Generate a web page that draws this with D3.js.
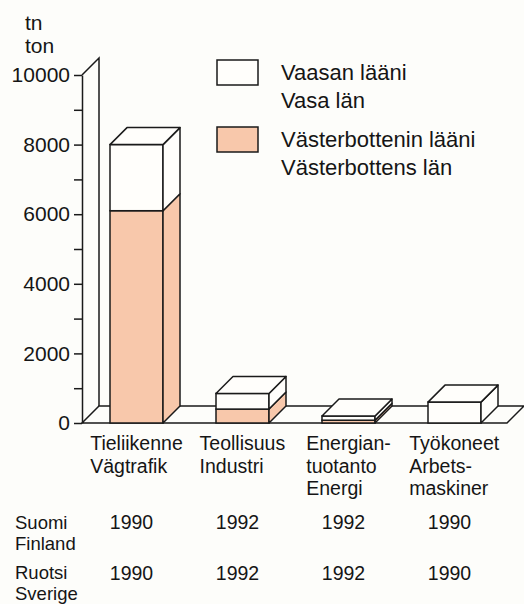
<!DOCTYPE html>
<html>
<head>
<meta charset="utf-8">
<script src="https://cdn.jsdelivr.net/npm/d3@7"></script>
<style>
  body { margin: 0; background: #fdfdfa; }
  svg text { font-family: "Liberation Sans", Arial, sans-serif; fill: #151515; }
</style>
</head>
<body>
<div class="chart"></div>
<script>
// data (tonnes)
var categories = [
  ["Tieliikenne", "Vägtrafik"],
  ["Teollisuus", "Industri"],
  ["Energian-", "tuotanto", "Energi"],
  ["Työkoneet", "Arbets-", "maskiner"]
];
var vaasa = [1900, 450, 120, 600];
var vasterbotten = [6100, 400, 80, 0];
var yearsFinland = [1990, 1992, 1992, 1990];
var yearsSweden = [1990, 1992, 1992, 1990];
var yTicks = [0, 1000, 2000, 3000, 4000, 5000, 6000, 7000, 8000, 9000, 10000];
var legendLabels = [["Vaasan lääni", "Vasa län"], ["Västerbottenin lääni", "Västerbottens län"]];

var width = 524, height = 604;
var depth = 17;
var peach = "#f8c8ab", white = "#fffefb", ink = "#1a1a1a";

var svg = d3.select(".chart").append("svg")
  .attr("width", width)
  .attr("height", height);

var y = d3.scaleLinear().domain([0, 10000]).range([423, 75]);
var x = d3.scaleBand()
  .domain(d3.range(categories.length))
  .range([57, 534])
  .paddingInner(0.5)
  .paddingOuter(0.5);

var axisX = 82;

// floor
var floorRight = 507;
svg.append("path")
  .attr("d", "M" + axisX + "," + y(0) + "L" + floorRight + "," + y(0) +
    "L" + (floorRight + depth) + "," + (y(0) - depth) +
    "L" + (axisX + depth) + "," + (y(0) - depth) + "Z")
  .attr("fill", "none")
  .attr("stroke", ink)
  .attr("stroke-width", 1.5);

// back wall edge
svg.append("path")
  .attr("d", "M" + axisX + "," + y(10000) + "L" + (axisX + depth) + "," + (y(10000) - depth) +
    "L" + (axisX + depth) + "," + (y(0) - depth))
  .attr("fill", "none")
  .attr("stroke", ink)
  .attr("stroke-width", 1.5);

// y axis
var yAxis = d3.axisLeft(y)
  .tickValues(yTicks)
  .tickFormat(function(d) { return d % 2000 === 0 ? d : ""; })
  .tickSize(8)
  .tickSizeOuter(0)
  .tickPadding(4);

var ag = svg.append("g")
  .attr("transform", "translate(" + axisX + ",0)")
  .call(yAxis);
ag.select(".domain").attr("stroke", ink).attr("stroke-width", 1.5);
ag.selectAll(".tick line").attr("stroke", ink).attr("stroke-width", 1.5);
ag.selectAll(".tick text")
  .style("font-family", '"Liberation Sans", Arial, sans-serif')
  .attr("font-size", 21)
  .attr("fill", "#151515");

// unit label
svg.append("text").attr("x", 25).attr("y", 30).attr("font-size", 21).text("tn");
svg.append("text").attr("x", 25).attr("y", 53).attr("font-size", 21).text("ton");

// bars
function drawBlock(g, x0, bw, v0, v1, fill) {
  var yt = y(v1), yb = y(v0);
  g.append("rect")
    .attr("x", x0).attr("y", yt)
    .attr("width", bw).attr("height", yb - yt)
    .attr("fill", fill).attr("stroke", ink).attr("stroke-width", 1.5);
  g.append("path")
    .attr("d", "M" + (x0 + bw) + "," + yt + "L" + (x0 + bw + depth) + "," + (yt - depth) +
      "L" + (x0 + bw + depth) + "," + (yb - depth) + "L" + (x0 + bw) + "," + yb + "Z")
    .attr("fill", fill).attr("stroke", ink).attr("stroke-width", 1.5)
    .attr("stroke-linejoin", "round");
}

categories.forEach(function(c, i) {
  var g = svg.append("g").attr("class", "bar");
  var x0 = x(i), bw = x.bandwidth();
  var b = vasterbotten[i], t = vasterbotten[i] + vaasa[i];
  if (b > 0) drawBlock(g, x0, bw, 0, b, peach);
  if (vaasa[i] > 0) drawBlock(g, x0, bw, b, t, white);
  var yt = y(t);
  g.append("path")
    .attr("d", "M" + x0 + "," + yt + "L" + (x0 + depth) + "," + (yt - depth) +
      "L" + (x0 + bw + depth) + "," + (yt - depth) + "L" + (x0 + bw) + "," + yt + "Z")
    .attr("fill", vaasa[i] > 0 ? white : peach)
    .attr("stroke", ink).attr("stroke-width", 1.5)
    .attr("stroke-linejoin", "round");
});

// category labels, left aligned block centred under each bar
categories.forEach(function(lines, i) {
  var cx = x(i) + x.bandwidth() / 2;
  var t = svg.append("text").attr("font-size", 19.5);
  lines.forEach(function(l, k) {
    t.append("tspan").attr("x", 0).attr("y", 450 + k * 22.5).text(l);
  });
  var w = t.node().getBBox().width;
  t.selectAll("tspan").attr("x", cx - w / 2);
});

// year rows
svg.append("text").attr("x", 15).attr("y", 529).attr("font-size", 18.5).text("Suomi");
svg.append("text").attr("x", 15).attr("y", 550).attr("font-size", 18.5).text("Finland");
svg.append("text").attr("x", 15).attr("y", 579).attr("font-size", 18.5).text("Ruotsi");
svg.append("text").attr("x", 15).attr("y", 600).attr("font-size", 18.5).text("Sverige");

svg.selectAll(".yearFi")
  .data(yearsFinland)
  .enter().append("text")
  .attr("class", "yearFi")
  .attr("x", function(d, i) { return x(i) + x.bandwidth() / 2 - 5; })
  .attr("y", 529)
  .attr("text-anchor", "middle")
  .attr("font-size", 19.5)
  .text(function(d) { return d; });

svg.selectAll(".yearSe")
  .data(yearsSweden)
  .enter().append("text")
  .attr("class", "yearSe")
  .attr("x", function(d, i) { return x(i) + x.bandwidth() / 2 - 5; })
  .attr("y", 580)
  .attr("text-anchor", "middle")
  .attr("font-size", 19.5)
  .text(function(d) { return d; });

// legend
var legend = svg.append("g").attr("class", "legend");
[white, peach].forEach(function(col, i) {
  var top = 60 + i * 67;
  legend.append("rect")
    .attr("x", 217).attr("y", top)
    .attr("width", 41).attr("height", 25)
    .attr("fill", col).attr("stroke", ink).attr("stroke-width", 1.5);
  legendLabels[i].forEach(function(l, k) {
    legend.append("text")
      .attr("x", 281).attr("y", top + 20 + k * 27.5)
      .attr("font-size", 22)
      .text(l);
  });
});
</script>
</body>
</html>
